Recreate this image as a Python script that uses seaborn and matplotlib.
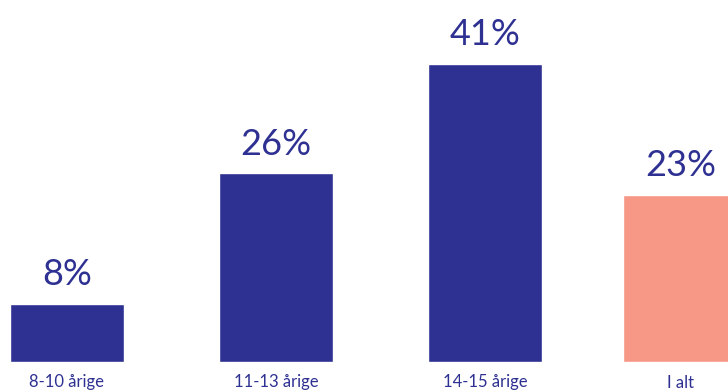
import matplotlib
matplotlib.use("Agg")
import matplotlib.pyplot as plt
import seaborn as sns
import pandas as pd

categories = ["8-10 årige", "11-13 årige", "14-15 årige", "I alt"]
values = [8, 26, 41, 23]
value_labels = ["8%", "26%", "41%", "23%"]

BLUE = "#2E3192"
SALMON = "#F79786"
colors = [BLUE, BLUE, BLUE, SALMON]

sns.set_theme(style="white")
plt.rcParams["font.family"] = ["Lato", "DejaVu Sans"]

df = pd.DataFrame({"cat": categories, "val": values})

fig = plt.figure(figsize=(7.28, 3.92), dpi=100)
ax = fig.add_axes([0, 30 / 392, 1, 362 / 392])
sns.barplot(data=df, x="cat", y="val", hue="cat", palette=colors, legend=False,
            width=0.545, ax=ax, saturation=1, order=categories)

SHIFT = 0.065
last = ax.patches[-1]
last.set_x(last.get_x() - SHIFT)

ax.set_xlim(-0.32, 3.163)
ax.set_ylim(0, 49.8)

for i, (v, lab) in enumerate(zip(values, value_labels)):
    x = i - (SHIFT if i == 3 else 0)
    ax.annotate(lab, (x, v), xytext=(0, 9), textcoords="offset points",
                ha="center", va="bottom", fontsize=26, color=BLUE,
                fontweight="normal")

ax.set_xticks([0, 1, 2, 3 - SHIFT])
ax.set_xticklabels(categories, fontsize=12, color=BLUE)
ax.tick_params(axis="x", length=0, pad=9)
ax.set_yticks([])
ax.set_xlabel("")
ax.set_ylabel("")
sns.despine(ax=ax, left=True, bottom=True)

fig.savefig("out.png", dpi=100)
